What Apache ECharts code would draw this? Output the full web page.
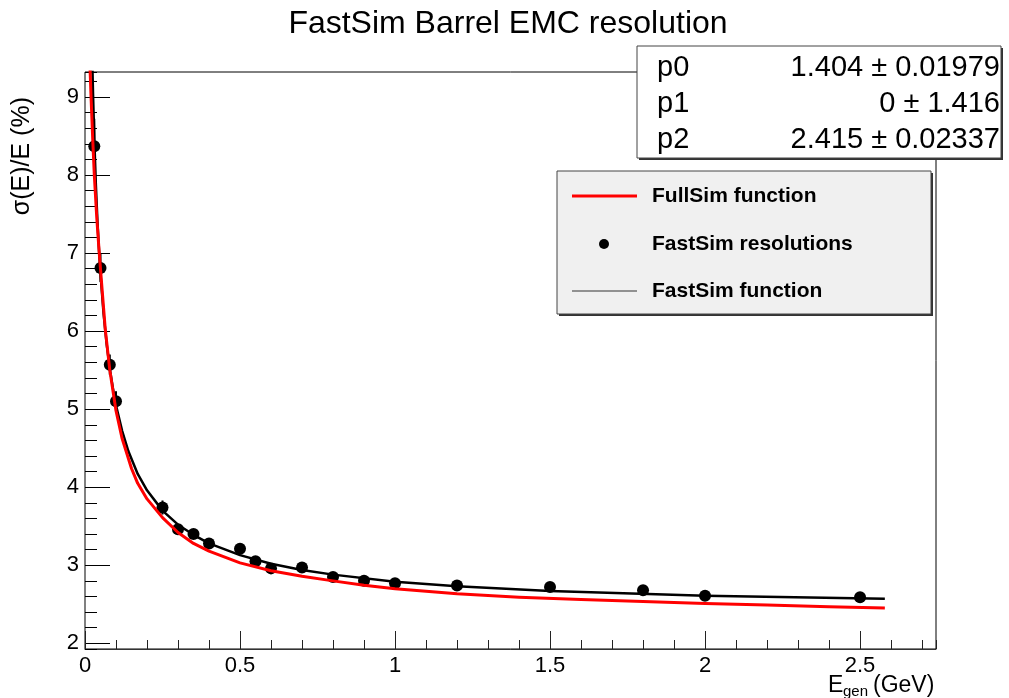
<!DOCTYPE html>
<html>
<head>
<meta charset="utf-8">
<title>FastSim Barrel EMC resolution</title>
<script src="https://cdn.jsdelivr.net/npm/echarts@6/dist/echarts.min.js"></script>
<style>
  html, body { margin: 0; padding: 0; background: #fff; }
  #chart { width: 1009px; height: 698px; }
</style>
</head>
<body>
<div id="chart"></div>
<script>
// FastSim resolution points: E (GeV), sigma(E)/E (%), error
const energies = [0.03, 0.05, 0.08, 0.1, 0.25, 0.3, 0.35, 0.4, 0.5, 0.55, 0.6, 0.7, 0.8, 0.9, 1.0, 1.2, 1.5, 1.8, 2.0, 2.5]
const resolutions = [8.37, 6.81, 5.57, 5.10, 3.74, 3.46, 3.40, 3.28, 3.21, 3.05, 2.96, 2.97, 2.85, 2.80, 2.77, 2.74, 2.72, 2.68, 2.61, 2.59]
const resErrors = [0.35, 0.18, 0.13, 0.13, 0.09, 0.06, 0.05, 0.05, 0.05, 0.05, 0.05, 0.04, 0.04, 0.04, 0.04, 0.04, 0.04, 0.04, 0.04, 0.04]

// FullSim function (red)
const fullE = [0.015, 0.02, 0.025, 0.03, 0.038, 0.046, 0.055, 0.0655, 0.08, 0.1, 0.12, 0.15, 0.17, 0.2, 0.25, 0.3, 0.35, 0.4, 0.5, 0.6, 0.7, 0.8, 0.9, 1.0, 1.2, 1.4, 1.6, 1.8, 2.0, 2.2, 2.4, 2.58]
const fullY = [9.5, 8.95, 8.45, 8.0, 7.45, 7.0, 6.54, 6.02, 5.5, 4.98, 4.62, 4.24, 4.05, 3.85, 3.61, 3.42, 3.28, 3.18, 3.03, 2.93, 2.86, 2.80, 2.745, 2.70, 2.635, 2.59, 2.56, 2.535, 2.51, 2.49, 2.468, 2.452]

// FastSim fit function (black)
const fastE = [0.024, 0.026, 0.03, 0.035, 0.04, 0.045, 0.05, 0.06, 0.07, 0.08, 0.09, 0.1, 0.12, 0.14, 0.17, 0.2, 0.25, 0.3, 0.35, 0.4, 0.5, 0.6, 0.7, 0.8, 1.0, 1.2, 1.5, 2.0, 2.58]
const fastY = [9.37, 9.03, 8.46, 7.88, 7.42, 7.05, 6.73, 6.22, 5.83, 5.52, 5.27, 5.05, 4.72, 4.46, 4.17, 3.96, 3.70, 3.52, 3.39, 3.28, 3.13, 3.02, 2.94, 2.88, 2.79, 2.73, 2.67, 2.61, 2.57]

// fit parameters box
const parNames = ['p0', 'p1', 'p2']
const parValues = ['1.404', '0', '2.415']
const parErrors = ['0.01979', '1.416', '0.02337']

const legendLabels = ['FullSim function', 'FastSim resolutions', 'FastSim function']

const xMax = 2.745
const yMin = 1.927
const yMax = 9.32
const fnt = "'Liberation Sans', Arial, sans-serif"

const chart = echarts.init(document.getElementById('chart'))

const pairs = (xs, ys) => xs.map((x, i) => [x, ys[i]])

// stats box rows
const statsTexts = []
parNames.forEach((n, i) => {
  statsTexts.push({
    type: 'text', x: 657, y: 68 + i * 36, z: 12,
    style: { text: n, font: '29px ' + fnt, fill: '#000', verticalAlign: 'middle' }
  })
  statsTexts.push({
    type: 'text', x: 1000, y: 68 + i * 36, z: 12,
    style: { text: parValues[i] + ' \u00b1 ' + parErrors[i], font: '29px ' + fnt, fill: '#000', align: 'right', verticalAlign: 'middle' }
  })
})

const legendY = [196, 244, 291]

const option = {
  animation: false,
  backgroundColor: '#fff',
  grid: { left: 85, right: 73, top: 72, bottom: 49, show: true, borderColor: '#000', borderWidth: 1 },
  xAxis: [
    {
      type: 'value', min: 0, max: xMax, splitNumber: 5, minInterval: 0.5, maxInterval: 0.5, position: 'bottom',
      axisLine: { lineStyle: { color: '#333', width: 1 } },
      axisTick: { inside: true, length: 18, lineStyle: { color: '#222' } },
      axisLabel: { showMaxLabel: false, color: '#000', fontSize: 22, fontFamily: fnt, margin: 6 },
      splitLine: { show: false }
    },
    {
      // minor ticks every 0.1
      type: 'value', min: 0, max: xMax, splitNumber: 5, minInterval: 0.1, maxInterval: 0.1, position: 'bottom', offset: 0,
      axisLine: { show: false },
      axisTick: { inside: true, length: 9, lineStyle: { color: '#222' } },
      axisLabel: { show: false },
      splitLine: { show: false }
    }
  ],
  yAxis: [
    {
      type: 'value', min: yMin, max: yMax, splitNumber: 7, minInterval: 1, maxInterval: 1, position: 'left',
      axisLine: { show: true, lineStyle: { color: '#808080', width: 1 } },
      axisTick: { inside: true, length: 25, lineStyle: { color: '#000' } },
      axisLabel: { showMinLabel: false, showMaxLabel: false, color: '#000', fontSize: 22, fontFamily: fnt, margin: 6 },
      splitLine: { show: false }
    },
    {
      // minor ticks every 0.2
      type: 'value', min: yMin, max: yMax, splitNumber: 7, minInterval: 0.2, maxInterval: 0.2, position: 'left', offset: 0,
      axisLine: { show: false },
      axisTick: { inside: true, length: 12, lineStyle: { color: '#000' } },
      axisLabel: { show: false },
      splitLine: { show: false }
    }
  ],
  series: [
    {
      name: 'errors', type: 'custom', z: 2,
      data: energies.map((e, i) => [e, resolutions[i], resErrors[i]]),
      renderItem: (params, api) => {
        const lo = api.coord([api.value(0), api.value(1) - api.value(2)])
        const hi = api.coord([api.value(0), api.value(1) + api.value(2)])
        return {
          type: 'line',
          shape: { x1: lo[0], y1: lo[1], x2: hi[0], y2: hi[1] },
          style: { stroke: '#000', lineWidth: 2 }
        }
      }
    },
    {
      name: legendLabels[1], type: 'scatter', z: 3,
      data: pairs(energies, resolutions),
      symbol: 'circle', symbolSize: 12,
      itemStyle: { color: '#000', opacity: 1 }
    },
    {
      name: legendLabels[2], type: 'line', z: 4,
      data: pairs(fastE, fastY),
      showSymbol: false, smooth: false, clip: true,
      lineStyle: { color: '#000', width: 2.5, join: 'round' }
    },
    {
      name: legendLabels[0], type: 'line', z: 5,
      data: pairs(fullE, fullY),
      showSymbol: false, smooth: false, clip: true,
      lineStyle: { color: '#ff0000', width: 3, join: 'round' }
    }
  ],
  graphic: [
    // title
    {
      type: 'text', x: 508, y: 24, z: 10,
      style: { text: 'FastSim Barrel EMC resolution', font: '32px ' + fnt, fill: '#000', align: 'center', verticalAlign: 'middle' }
    },
    // y axis title
    {
      type: 'text', x: 22, y: 97, rotation: Math.PI / 2, z: 10,
      style: { text: '\u03c3(E)/E (%)', font: '25px ' + fnt, fill: '#000', align: 'right', verticalAlign: 'middle' }
    },
    // x axis title
    {
      type: 'text', x: 828, y: 686, z: 10,
      style: { text: 'E', font: '23px ' + fnt, fill: '#000', verticalAlign: 'middle' }
    },
    {
      type: 'text', x: 843, y: 692, z: 10,
      style: { text: 'gen', font: '15px ' + fnt, fill: '#000', verticalAlign: 'middle' }
    },
    {
      type: 'text', x: 873, y: 686, z: 10,
      style: { text: '(GeV)', font: '23px ' + fnt, fill: '#000', verticalAlign: 'middle' }
    },
    // stats box
    { type: 'rect', shape: { x: 639, y: 48, width: 364, height: 112 }, z: 10, style: { fill: '#333' } },
    { type: 'rect', shape: { x: 637, y: 46, width: 364, height: 112 }, z: 11, style: { fill: '#fff', stroke: '#444', lineWidth: 1 } },
    ...statsTexts,
    // legend box
    { type: 'rect', shape: { x: 559, y: 173, width: 374, height: 143 }, z: 10, style: { fill: '#333' } },
    { type: 'rect', shape: { x: 557, y: 171, width: 374, height: 143 }, z: 11, style: { fill: '#f0f0f0', stroke: '#444', lineWidth: 1 } },
    { type: 'line', shape: { x1: 572, y1: legendY[0], x2: 637, y2: legendY[0] }, z: 12, style: { stroke: '#ff0000', lineWidth: 3 } },
    { type: 'circle', shape: { cx: 604, cy: legendY[1], r: 5 }, z: 12, style: { fill: '#000' } },
    { type: 'line', shape: { x1: 572, y1: legendY[2], x2: 637, y2: legendY[2] }, z: 12, style: { stroke: '#333', lineWidth: 1 } },
    ...legendLabels.map((t, i) => ({
      type: 'text', x: 652, y: legendY[i], z: 12,
      style: { text: t, font: 'bold 21px ' + fnt, fill: '#000', verticalAlign: 'middle' }
    }))
  ]
}

chart.setOption(option)
</script>
</body>
</html>
